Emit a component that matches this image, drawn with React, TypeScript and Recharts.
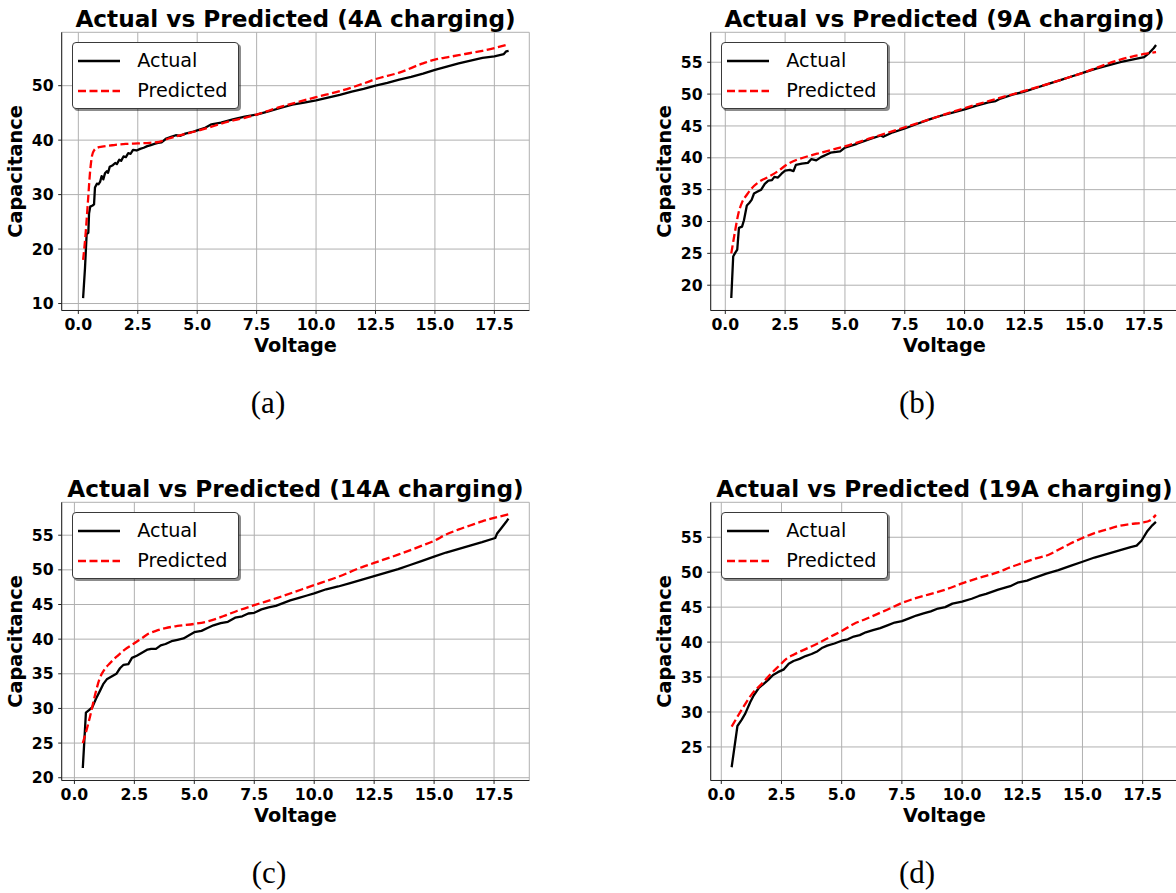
import React from 'react';
import { LineChart, Line, XAxis, YAxis, CartesianGrid, Legend } from 'recharts';

// ---------- tick labels ----------
const xTicks = [0, 2.5, 5, 7.5, 10, 12.5, 15, 17.5];
const yTicksA = [10, 20, 30, 40, 50];
const yTicksB = [20, 25, 30, 35, 40, 45, 50, 55];
const yTicksC = [20, 25, 30, 35, 40, 45, 50, 55];
const yTicksD = [25, 30, 35, 40, 45, 50, 55];

const seriesNames = ['Actual', 'Predicted'];
const titles = [
  'Actual vs Predicted (4A charging)',
  'Actual vs Predicted (9A charging)',
  'Actual vs Predicted (14A charging)',
  'Actual vs Predicted (19A charging)',
];
const captions = ['(a)', '(b)', '(c)', '(d)'];

// ---------- (a) 4A ----------
const aActV = [0.2, 0.28, 0.35, 0.4, 0.42, 0.45, 0.5, 0.6, 0.66, 0.7, 0.78, 0.85, 0.92, 0.98, 1.05, 1.12, 1.2, 1.25, 1.32, 1.45, 1.55, 1.62, 1.72, 1.8, 1.9, 2.0, 2.1, 2.2, 2.3, 2.45, 2.6, 2.75, 2.9, 3.05, 3.2, 3.35, 3.5, 3.7, 3.9, 4.1, 4.3, 4.5, 4.8, 5.0, 5.3, 5.6, 6.0, 6.5, 7.0, 7.5, 8.0, 8.5, 9.0, 9.5, 10.0, 10.5, 11.0, 11.5, 12.0, 12.5, 13.0, 13.5, 14.0, 14.5, 15.0, 15.5, 16.0, 16.5, 17.0, 17.5, 17.9, 18.0, 18.1];
const aActC = [11.0, 16.5, 22.8, 22.9, 23.0, 26.5, 27.8, 28.0, 28.2, 31.3, 32.0, 31.9, 32.4, 33.4, 32.8, 33.9, 34.3, 34.0, 35.1, 35.4, 35.8, 35.6, 36.4, 36.2, 37.0, 36.9, 37.6, 37.5, 38.2, 38.1, 38.4, 38.6, 38.9, 39.1, 39.3, 39.5, 39.6, 40.3, 40.6, 40.9, 40.8, 41.2, 41.5, 41.8, 42.2, 42.9, 43.2, 43.8, 44.3, 44.7, 45.3, 45.9, 46.5, 46.9, 47.3, 47.8, 48.3, 48.9, 49.4, 50.0, 50.5, 51.1, 51.6, 52.2, 52.9, 53.5, 54.1, 54.6, 55.1, 55.4, 55.8, 56.3, 56.4];
const aPredV = [0.2, 0.3, 0.4, 0.5, 0.58, 0.66, 0.8, 1.0, 1.5, 2.0, 2.5, 3.0, 3.4, 3.8, 4.3, 5.0, 5.7, 6.3, 7.0, 7.5, 8.0, 8.5, 9.0, 10.0, 11.0, 12.0, 12.5, 13.5, 14.5, 15.0, 15.5, 16.0, 16.5, 17.0, 17.5, 18.1];
const aPredC = [18.0, 22.5, 28.5, 34.5, 37.2, 38.1, 38.6, 38.8, 39.1, 39.3, 39.4, 39.5, 39.7, 40.3, 40.9, 41.7, 42.6, 43.4, 44.1, 44.7, 45.4, 46.1, 46.7, 47.9, 49.0, 50.4, 51.2, 52.4, 54.1, 54.8, 55.2, 55.6, 56.0, 56.4, 56.9, 57.6];

// ---------- (b) 9A ----------
const bActV = [0.25, 0.33, 0.4, 0.5, 0.57, 0.7, 0.78, 0.9, 1.0, 1.1, 1.2, 1.35, 1.5, 1.65, 1.8, 1.95, 2.05, 2.2, 2.35, 2.5, 2.7, 2.85, 2.95, 3.2, 3.45, 3.6, 3.8, 4.0, 4.4, 4.8, 5.0, 5.5, 6.0, 6.5, 6.6, 7.0, 7.5, 8.0, 8.5, 9.0, 9.5, 10.0, 10.5, 11.0, 11.3, 11.5, 12.0, 12.5, 13.0, 13.5, 14.0, 14.5, 15.0, 15.5, 16.0, 16.5, 17.0, 17.5, 17.7, 17.9, 18.0];
const bActC = [18.0, 24.5, 25.0, 25.6, 29.0, 29.2, 30.2, 32.5, 32.9, 33.4, 34.4, 34.7, 35.0, 35.9, 36.4, 36.5, 37.0, 36.9, 37.5, 38.0, 38.1, 37.9, 38.9, 39.1, 39.2, 39.8, 39.6, 40.1, 40.8, 41.0, 41.6, 42.2, 42.9, 43.5, 43.3, 44.0, 44.6, 45.3, 46.0, 46.6, 47.1, 47.6, 48.2, 48.7, 48.9, 49.3, 49.9, 50.4, 51.0, 51.6, 52.2, 52.8, 53.4, 54.0, 54.5, 55.0, 55.4, 55.8, 56.4, 57.2, 57.7];
const bPredV = [0.25, 0.4, 0.55, 0.7, 0.9, 1.1, 1.4, 1.8, 2.2, 2.6, 3.0, 3.5, 4.0, 4.5, 5.0, 6.0, 7.0, 7.5, 8.5, 10.0, 11.0, 12.5, 14.0, 15.0, 16.0, 17.0, 17.5, 18.0];
const bPredC = [25.0, 28.3, 31.3, 33.0, 34.2, 35.2, 36.2, 37.0, 37.9, 39.0, 39.7, 40.3, 40.8, 41.3, 41.8, 43.0, 44.2, 44.8, 46.0, 47.8, 48.9, 50.5, 52.2, 53.4, 54.8, 55.9, 56.3, 56.6];

// ---------- (c) 14A ----------
const cActV = [0.35, 0.48, 0.62, 0.75, 0.9, 1.06, 1.2, 1.35, 1.55, 1.75, 1.9, 2.05, 2.25, 2.4, 2.6, 2.8, 3.05, 3.2, 3.4, 3.6, 3.8, 4.05, 4.3, 4.55, 4.8, 5.0, 5.3, 5.55, 5.8, 6.1, 6.4, 6.7, 7.0, 7.25, 7.5, 7.8, 8.1, 8.4, 8.7, 9.0, 9.4, 9.7, 10.0, 10.5, 11.0, 11.5, 12.0, 12.5, 13.0, 13.5, 14.0, 14.5, 15.0, 15.5, 16.0, 16.5, 17.0, 17.55, 17.62, 17.8, 18.0, 18.1];
const cActC = [21.4, 29.4, 29.8, 30.2, 31.4, 32.5, 33.5, 34.2, 34.6, 35.0, 35.8, 36.3, 36.4, 37.3, 37.6, 38.0, 38.5, 38.6, 38.6, 39.1, 39.3, 39.7, 39.9, 40.1, 40.6, 41.0, 41.2, 41.6, 42.0, 42.3, 42.5, 43.1, 43.3, 43.7, 43.8, 44.3, 44.6, 44.8, 45.2, 45.6, 46.0, 46.3, 46.6, 47.2, 47.6, 48.1, 48.6, 49.1, 49.6, 50.1, 50.7, 51.3, 51.9, 52.5, 53.0, 53.5, 54.0, 54.6, 55.2, 56.0, 56.9, 57.4];
const cPredV = [0.35, 0.5, 0.65, 0.85, 1.05, 1.25, 1.5, 1.8, 2.1, 2.5, 2.8, 3.1, 3.4, 3.8, 4.3, 5.0, 5.6, 6.2, 6.8, 7.5, 8.5, 9.5, 10.0, 11.0, 12.0, 12.5, 13.5, 14.5, 15.0, 15.5, 16.0, 16.5, 17.0, 17.5, 18.1];
const cPredC = [25.0, 26.8, 28.8, 31.8, 34.3, 35.6, 36.6, 37.6, 38.5, 39.4, 40.1, 40.8, 41.2, 41.6, 41.9, 42.2, 42.6, 43.3, 44.1, 44.9, 46.0, 47.2, 47.8, 49.0, 50.4, 51.0, 52.2, 53.5, 54.2, 55.1, 55.8, 56.4, 57.0, 57.5, 58.0];

// ---------- (d) 19A ----------
const dActV = [0.43, 0.67, 0.85, 1.0, 1.2, 1.35, 1.55, 1.75, 1.95, 2.15, 2.35, 2.6, 2.8, 3.0, 3.25, 3.5, 3.75, 4.0, 4.2, 4.4, 4.7, 5.0, 5.25, 5.5, 5.75, 6.0, 6.3, 6.6, 6.9, 7.2, 7.5, 7.8, 8.1, 8.4, 8.7, 9.0, 9.3, 9.6, 10.0, 10.4, 10.7, 11.0, 11.5, 12.0, 12.3, 12.7, 13.0, 13.5, 14.0, 14.5, 15.0, 15.5, 16.0, 16.5, 17.0, 17.25, 17.45, 17.7, 17.9, 18.05];
const dActC = [22.1, 28.0, 28.9, 29.8, 31.4, 32.4, 33.4, 34.0, 34.6, 35.3, 35.7, 36.1, 36.9, 37.3, 37.6, 38.0, 38.3, 38.7, 39.2, 39.5, 39.8, 40.2, 40.4, 40.8, 41.0, 41.4, 41.7, 42.0, 42.4, 42.8, 43.0, 43.4, 43.8, 44.1, 44.4, 44.8, 45.0, 45.5, 45.8, 46.2, 46.6, 46.9, 47.5, 48.0, 48.5, 48.8, 49.2, 49.8, 50.3, 50.9, 51.5, 52.1, 52.6, 53.1, 53.6, 53.8, 54.5, 55.9, 56.7, 57.2];
const dPredV = [0.43, 0.7, 0.95, 1.3, 1.7, 2.1, 2.4, 2.7, 3.0, 3.5, 4.0, 4.5, 5.0, 5.5, 6.0, 6.6, 7.0, 7.5, 8.0, 8.6, 9.3, 10.0, 10.7, 11.5, 12.0, 12.5, 13.0, 13.6, 14.0, 14.5, 15.0, 15.5, 16.0, 16.5, 17.0, 17.5, 17.8, 18.05];
const dPredC = [27.9, 29.5, 30.9, 32.7, 34.1, 35.6, 36.6, 37.6, 38.2, 39.0, 39.8, 40.7, 41.6, 42.6, 43.3, 44.2, 44.8, 45.6, 46.2, 46.8, 47.5, 48.4, 49.2, 50.0, 50.7, 51.3, 51.9, 52.5, 53.2, 54.1, 54.9, 55.6, 56.1, 56.6, 56.9, 57.1, 57.4, 58.2];

const toRows = (vs: number[], cs: number[]) => vs.map((v, i) => ({ v, c: cs[i] }));

// ---------- layout ----------
const PLOT_W = 467.6;
const PLOT_H = 278.2;
const X_AXIS_H = 45;
const FONT = "'DejaVu Sans', sans-serif";
const TITLE_SIZE = 23.2;

type PanelProps = {
  title: string;
  svgLeft: number;
  svgTop: number;
  plotLeft: number;
  plotTop: number;
  xDomain: [number, number];
  yDomain: [number, number];
  yTicks: number[];
  actual: { v: number; c: number }[];
  predicted: { v: number; c: number }[];
};

const YTitle = (props: any) => {
  const vb = props.viewBox || { x: 0, y: 0, width: 0, height: 0 };
  const bx = vb.x + vb.width - 39.3;
  const cy = vb.y + vb.height / 2;
  return (
    <text
      x={bx}
      y={cy}
      transform={`rotate(-90 ${bx} ${cy})`}
      textAnchor="middle"
      fontSize={19.3}
      fontWeight="bold"
      fontFamily={FONT}
      fill="#000"
    >
      Capacitance
    </text>
  );
};

const LegendBox = (props: any) => {
  const items =
    props.payload && props.payload.length
      ? props.payload.map((p: any, i: number) => ({
          name: p.value ?? seriesNames[i],
          color: p.color,
          dash: p.payload?.strokeDasharray,
        }))
      : [
          { name: seriesNames[0], color: '#000', dash: undefined },
          { name: seriesNames[1], color: '#ff0000', dash: '8 3.5' },
        ];
  return (
    <div
      style={{
        border: '1px solid #3a3a3a',
        borderRadius: 4,
        background: '#fff',
        boxShadow: '2px 2px 0 rgba(0,0,0,0.45)',
        padding: '2.5px 11px 2.5px 5px',
        width: 'max-content',
        fontFamily: FONT,
        fontSize: 19.2,
        color: '#000',
        lineHeight: '30px',
      }}
    >
      {items.map((it: any) => (
        <div key={it.name} style={{ display: 'flex', alignItems: 'center', height: 30 }}>
          <svg width={42} height={10} style={{ display: 'block', marginRight: 17 }}>
            <line x1={0} y1={5} x2={42} y2={5} stroke={it.color} strokeWidth={2.3} strokeDasharray={it.dash} />
          </svg>
          <span>{it.name}</span>
        </div>
      ))}
    </div>
  );
};

const Panel = (p: PanelProps) => {
  const yAxisW = p.plotLeft - p.svgLeft;
  const mTop = p.plotTop - p.svgTop;
  const mRight = 6;
  const mBottom = 8;
  const width = yAxisW + PLOT_W + mRight;
  const height = mTop + PLOT_H + X_AXIS_H + mBottom;
  const tickStyle = { fontSize: 15.7, fontWeight: 'bold', fill: '#000', fontFamily: FONT };
  return (
    <div style={{ position: 'absolute', left: p.svgLeft, top: p.svgTop }}>
      <div
        style={{
          position: 'absolute',
          left: yAxisW + PLOT_W / 2 - 300,
          width: 600,
          top: mTop - 5.3 - 0.846 * TITLE_SIZE,
          textAlign: 'center',
          fontFamily: FONT,
          fontWeight: 'bold',
          fontSize: TITLE_SIZE,
          lineHeight: `${TITLE_SIZE}px`,
          whiteSpace: 'nowrap',
          color: '#000',
          zIndex: 2,
        }}
      >
        {p.title}
      </div>
      <LineChart width={width} height={height} margin={{ top: mTop, left: 0, right: mRight, bottom: mBottom }}>
        <CartesianGrid stroke="#b0b0b0" strokeWidth={1} />
        <XAxis
          dataKey="v"
          type="number"
          domain={p.xDomain}
          allowDataOverflow
          ticks={xTicks}
          interval={0}
          tickFormatter={(v: number) => v.toFixed(1)}
          height={X_AXIS_H}
          tick={tickStyle}
          tickSize={3.5}
          tickMargin={5}
          tickLine={{ stroke: '#222', strokeWidth: 1 }}
          axisLine={{ stroke: '#222', strokeWidth: 1 }}
          label={{
            value: 'Voltage',
            position: 'insideBottom',
            offset: 3.5,
            fontSize: 19.3,
            fontWeight: 'bold',
            fill: '#000',
            fontFamily: FONT,
          }}
        />
        <XAxis
          xAxisId="top"
          orientation="top"
          type="number"
          domain={p.xDomain}
          allowDataOverflow
          height={0}
          tick={false}
          tickLine={false}
          axisLine={{ stroke: '#222', strokeWidth: 1 }}
        />
        <YAxis
          type="number"
          domain={p.yDomain}
          allowDataOverflow
          ticks={p.yTicks}
          interval={0}
          width={yAxisW}
          tick={tickStyle}
          tickSize={3.5}
          tickMargin={4.5}
          tickLine={{ stroke: '#222', strokeWidth: 1 }}
          axisLine={{ stroke: '#222', strokeWidth: 1 }}
          label={{ content: YTitle }}
        />
        <YAxis
          yAxisId="right"
          orientation="right"
          type="number"
          domain={[0, 1]}
          width={0}
          tick={false}
          tickLine={false}
          axisLine={{ stroke: '#222', strokeWidth: 1 }}
        />
        <Legend
          layout="horizontal"
          verticalAlign="middle"
          align="center"
          content={LegendBox}
          wrapperStyle={{ left: yAxisW + 10.6, top: mTop + 10, width: 'auto', height: 'auto' }}
        />
        <Line
          data={p.actual}
          dataKey="c"
          name={seriesNames[0]}
          type="linear"
          stroke="#000000"
          strokeWidth={2.3}
          strokeLinejoin="round"
          dot={false}
          activeDot={false}
          isAnimationActive={false}
        />
        <Line
          data={p.predicted}
          dataKey="c"
          name={seriesNames[1]}
          type="monotone"
          stroke="#ff0000"
          strokeWidth={2.3}
          strokeDasharray="8 3.5"
          dot={false}
          activeDot={false}
          isAnimationActive={false}
        />
      </LineChart>
    </div>
  );
};

const Caption = ({ text, cx, top }: { text: string; cx: number; top: number }) => (
  <div
    style={{
      position: 'absolute',
      left: cx - 60,
      top,
      width: 120,
      textAlign: 'center',
      fontFamily: "'Liberation Serif', 'DejaVu Serif', serif",
      fontSize: 31,
      lineHeight: '31px',
      color: '#000',
    }}
  >
    {text}
  </div>
);

export default function App() {
  return (
    <div
      style={{
        position: 'absolute',
        left: 0,
        top: 0,
        width: 1176,
        height: 893,
        overflow: 'hidden',
        background: '#fff',
      }}
    >
      <Panel
        title={titles[0]}
        svgLeft={0}
        svgTop={0}
        plotLeft={61.7}
        plotTop={32.3}
        xDomain={[-0.7, 18.97]}
        yDomain={[8.72, 59.8]}
        yTicks={yTicksA}
        actual={toRows(aActV, aActC)}
        predicted={toRows(aPredV, aPredC)}
      />
      <Panel
        title={titles[1]}
        svgLeft={640}
        svgTop={0}
        plotLeft={710.7}
        plotTop={32.3}
        xDomain={[-0.61, 18.93]}
        yDomain={[16.03, 59.7]}
        yTicks={yTicksB}
        actual={toRows(bActV, bActC)}
        predicted={toRows(bPredV, bPredC)}
      />
      <Panel
        title={titles[2]}
        svgLeft={0}
        svgTop={470}
        plotLeft={61.7}
        plotTop={502.3}
        xDomain={[-0.53, 18.97]}
        yDomain={[19.6, 59.75]}
        yTicks={yTicksC}
        actual={toRows(cActV, cActC)}
        predicted={toRows(cPredV, cPredC)}
      />
      <Panel
        title={titles[3]}
        svgLeft={640}
        svgTop={470}
        plotLeft={710.7}
        plotTop={502.3}
        xDomain={[-0.44, 18.98]}
        yDomain={[20.2, 60.0]}
        yTicks={yTicksD}
        actual={toRows(dActV, dActC)}
        predicted={toRows(dPredV, dPredC)}
      />
      <Caption text={captions[0]} cx={268} top={387} />
      <Caption text={captions[1]} cx={917} top={387} />
      <Caption text={captions[2]} cx={269} top={857} />
      <Caption text={captions[3]} cx={917} top={857} />
    </div>
  );
}
